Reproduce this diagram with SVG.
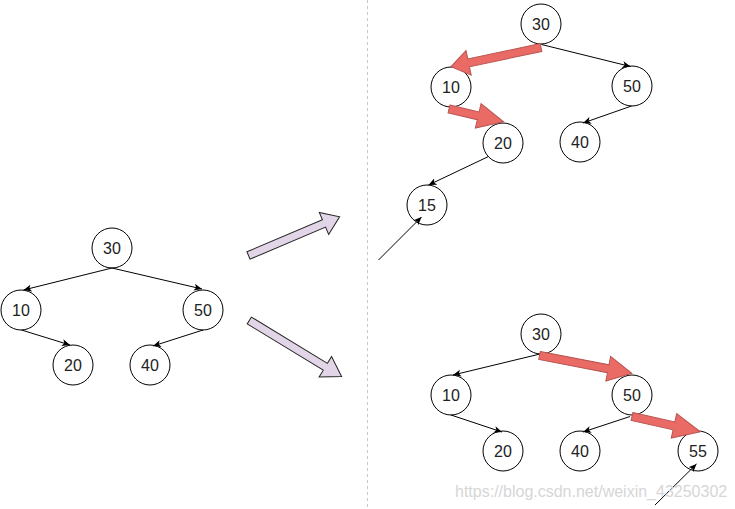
<svg xmlns="http://www.w3.org/2000/svg" width="735" height="509" viewBox="0 0 735 509">
<style>
.n circle{fill:#fff;stroke:#000;stroke-width:1}
.n text{font-family:"Liberation Sans",Arial,sans-serif;font-size:16px;fill:#222;text-anchor:middle;dominant-baseline:central}
.e{stroke:#000;stroke-width:1;fill:none;marker-end:url(#ah)}
.red{fill:#ea6b66;stroke:#b85450;stroke-width:1}
.lav{fill:#e1d5e7;stroke:#222;stroke-width:1}
.wm{font-family:"Liberation Sans",Arial,sans-serif;font-size:16px;fill:#d6d6d6}
</style>
<defs>
<marker id="ah" viewBox="0 0 8 7" refX="8" refY="3.5" markerWidth="8" markerHeight="7" markerUnits="userSpaceOnUse" orient="auto">
<path d="M0,0 L8,3.5 L0,7 L2,3.5 z" fill="#000"/>
</marker>
</defs>
<rect width="735" height="509" fill="#fff"/>
<line x1="367.5" y1="0" x2="367.5" y2="509" stroke="#c8c8c8" stroke-width="1" stroke-dasharray="3,3"/>

<g id="left-tree">
<g id="L30" class="n"><circle cx="112" cy="248" r="20"/><text x="112" y="248">30</text></g>
<g id="L10" class="n"><circle cx="21" cy="310" r="20"/><text x="21" y="310">10</text></g>
<g id="L50" class="n"><circle cx="203" cy="310" r="20"/><text x="203" y="310">50</text></g>
<g id="L20" class="n"><circle cx="73" cy="365" r="20"/><text x="73" y="365">20</text></g>
<g id="L40" class="n"><circle cx="150" cy="365" r="20"/><text x="150" y="365">40</text></g>
</g>

<g id="top-tree">
<g id="T30" class="n"><circle cx="541" cy="24" r="20"/><text x="541" y="24">30</text></g>
<g id="T10" class="n"><circle cx="451" cy="87" r="20"/><text x="451" y="87">10</text></g>
<g id="T50" class="n"><circle cx="632" cy="86" r="20"/><text x="632" y="86">50</text></g>
<g id="T20" class="n"><circle cx="503" cy="143" r="20"/><text x="503" y="143">20</text></g>
<g id="T40" class="n"><circle cx="580" cy="142" r="20"/><text x="580" y="142">40</text></g>
<g id="T15" class="n"><circle cx="427" cy="205" r="20"/><text x="427" y="205">15</text></g>
</g>

<g id="bottom-tree">
<g id="B30" class="n"><circle cx="541" cy="334" r="20"/><text x="541" y="334">30</text></g>
<g id="B10" class="n"><circle cx="451" cy="395" r="20"/><text x="451" y="395">10</text></g>
<g id="B50" class="n"><circle cx="632" cy="395" r="20"/><text x="632" y="395">50</text></g>
<g id="B20" class="n"><circle cx="503" cy="451" r="20"/><text x="503" y="451">20</text></g>
<g id="B40" class="n"><circle cx="580" cy="451" r="20"/><text x="580" y="451">40</text></g>
<g id="B55" class="n"><circle cx="698" cy="451" r="20"/><text x="698" y="451">55</text></g>
</g>

<g id="connectors">
<line class="e" x1="112" y1="268" x2="23.5" y2="290"/>
<line class="e" x1="112" y1="268" x2="202" y2="289"/>
<line class="e" x1="21.5" y1="330" x2="70" y2="345"/>
<line class="e" x1="203" y1="330" x2="153" y2="346"/>

<line class="e" x1="541.5" y1="44.5" x2="630.5" y2="66.5"/>
<line class="e" x1="631.5" y1="106" x2="583" y2="123"/>
<line class="e" x1="488.5" y1="156.5" x2="428.5" y2="185"/>
<line class="e" x1="378.5" y1="260" x2="421.5" y2="217"/>

<line class="e" x1="540" y1="354" x2="453" y2="375"/>
<line class="e" x1="451" y1="415" x2="502" y2="432"/>
<line class="e" x1="630" y1="416.5" x2="583" y2="432"/>
<line class="e" x1="655" y1="505" x2="696.5" y2="464"/>

<polygon class="lav" transform="translate(248.5,255.5) rotate(-23)" points="0,-4 82,-4 82,-12 99,0 82,12 82,4 0,4"/>
<polygon class="lav" transform="translate(249.3,320.5) rotate(31.3)" points="0,-4 89,-4 89,-12 108,0 89,12 89,4 0,4"/>

<polygon class="red" transform="translate(541,47.5) rotate(168)" points="0,-4 74,-4 74,-12.5 92,0 74,12.5 74,4 0,4"/>
<polygon class="red" transform="translate(449,109) rotate(13.2)" points="0,-4 30,-4 30,-12.5 56,0 30,12.5 30,4 0,4"/>
<polygon class="red" transform="translate(539.5,355.5) rotate(10.9)" points="0,-4 70,-4 70,-12.5 94,0 70,12.5 70,4 0,4"/>
<polygon class="red" transform="translate(632,416.5) rotate(12.6)" points="0,-4 43,-4 43,-12.5 70,0 43,12.5 43,4 0,4"/>
</g>

<text class="wm" x="455" y="497">https://blog.csdn.net/weixin_43250302</text>
</svg>
